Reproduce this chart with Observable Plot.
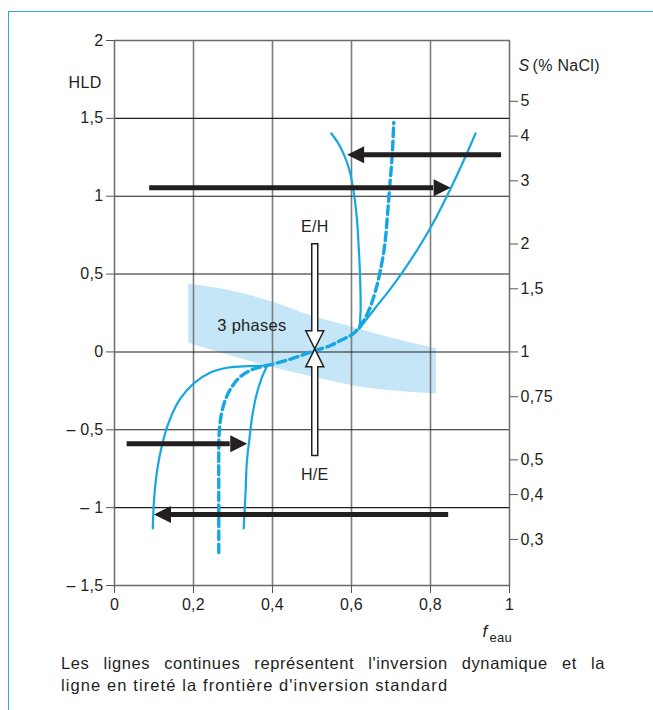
<!DOCTYPE html>
<html>
<head>
<meta charset="utf-8">
<script src="https://cdn.jsdelivr.net/npm/d3@7"></script>
<script src="https://cdn.jsdelivr.net/npm/@observablehq/plot@0.6"></script>
<style>
  body { margin: 0; background: #fff; font-family: "Liberation Sans", Arial, sans-serif; color: #231f20; }
  #wrap { position: relative; width: 653px; height: 710px; overflow: hidden; }
  #border { position: absolute; left: 8px; top: 11px; width: 720px; height: 760px;
            border-left: 1.6px solid #2eaae1; border-top: 1.6px solid #2eaae1; }
  #chart { position: absolute; left: 0; top: 0; }
  #chart svg { display: block; }
  #caption { position: absolute; left: 61px; top: 652px; width: 544px; font-size: 16.5px; line-height: 22px;
             letter-spacing: 1.1px; color: #231f20; }
  #caption .l1 { text-align: justify; text-align-last: justify; letter-spacing: 0.6px; }
</style>
</head>
<body>
<div id="wrap">
  <div id="border"></div>
  <div id="chart"></div>
  <div id="caption">
    <div class="l1">Les lignes continues représentent l'inversion dynamique et la</div>
    <div>ligne en tireté la frontière d'inversion standard</div>
  </div>
</div>
<script>
// ---------- data ----------
const hldTicks = [2, 1.5, 1, 0.5, 0, -0.5, -1, -1.5];
const hldLabels = ["2", "1,5", "1", "0,5", "0", "– 0,5", "– 1", "– 1,5"];
const fTicks = [0, 0.2, 0.4, 0.6, 0.8, 1];
const fLabels = ["0", "0,2", "0,4", "0,6", "0,8", "1"];
const sTicks = [5, 4, 3, 2, 1.5, 1, 0.75, 0.5, 0.4, 0.3];
const sLabels = ["5", "4", "3", "2", "1,5", "1", "0,75", "0,5", "0,4", "0,3"];

// dynamic inversion (solid) curves: [f_eau, HLD]
const dynUpperLeft = [[0.620, 0.150], [0.623, 0.266], [0.622, 0.459], [0.618, 0.683], [0.613, 0.876], [0.605, 1.036],
  [0.595, 1.165], [0.582, 1.261], [0.567, 1.338], [0.549, 1.403]];
const dynUpperRight = [[0.620, 0.150], [0.661, 0.285], [0.699, 0.407], [0.737, 0.542], [0.775, 0.690], [0.813, 0.857],
  [0.851, 1.049], [0.884, 1.229], [0.914, 1.403]];
const dynLowerLeft = [[0.387, -0.087], [0.339, -0.091], [0.289, -0.100], [0.243, -0.132], [0.203, -0.197], [0.167, -0.299],
  [0.139, -0.441], [0.120, -0.601], [0.108, -0.761], [0.100, -0.954], [0.097, -1.134]];
const dynLowerRight = [[0.387, -0.087], [0.372, -0.171], [0.359, -0.280], [0.349, -0.408], [0.342, -0.550], [0.335, -0.710],
  [0.332, -0.890], [0.327, -1.134]];
// standard inversion frontier (dashed)
const stdFrontier = [[0.264, -1.288], [0.264, -0.954], [0.264, -0.633], [0.265, -0.518], [0.270, -0.408], [0.280, -0.312],
  [0.296, -0.229], [0.319, -0.158], [0.349, -0.113], [0.387, -0.087], [0.446, -0.046], [0.504, 0.006], [0.547, 0.041],
  [0.572, 0.073], [0.605, 0.118], [0.628, 0.189], [0.646, 0.279], [0.661, 0.394], [0.673, 0.523], [0.684, 0.683],
  [0.691, 0.876], [0.697, 1.069], [0.703, 1.261], [0.707, 1.473]];

// three-phase band
const bandX = [0.188, 0.3, 0.4, 0.5, 0.6, 0.7, 0.815];
const bandTop = [0.437, 0.39, 0.32, 0.23, 0.16, 0.09, 0.02];
const bandBottom = [0.056, -0.03, -0.10, -0.16, -0.215, -0.25, -0.27];

// hysteresis arrows
const arrowY = [1.267, 1.054, -0.59, -1.044];
const arrowFrom = [0.98, 0.089, 0.032, 0.846];
const arrowTo = [0.589, 0.851, 0.336, 0.10];

// E/H – H/E double arrow
const switchX = 0.507, switchY = 0.02, switchTop = 0.695, switchBottom = -0.665;

// labels
const annotations = [
  {x: 0.348, y: 0.17, text: "3 phases", size: 16.5},
  {x: 0.507, y: 0.806, text: "E/H", size: 16},
  {x: 0.507, y: -0.79, text: "H/E", size: 16}
];

// ---------- layout ----------
const W = 653, H = 652, mL = 114, mR = 144, mT = 40, mB = 67;
const xDomain = [0, 1], yDomain = [-1.5, 2];
const pxX = (W - mL - mR) / (xDomain[1] - xDomain[0]);
const pxY = (H - mT - mB) / (yDomain[1] - yDomain[0]);
const BLUE = "#16a6e2", INK = "#231f20";

const HEAD_L = 17, HEAD_W = 8.5;
const headRight = {draw(c) { c.moveTo(0, 0); c.lineTo(-HEAD_L, -HEAD_W); c.lineTo(-HEAD_L, HEAD_W); c.closePath(); }};
const headLeft = {draw(c) { c.moveTo(0, 0); c.lineTo(HEAD_L, -HEAD_W); c.lineTo(HEAD_L, HEAD_W); c.closePath(); }};

const topPx = (switchTop - switchY) * pxY, botPx = (switchY - switchBottom) * pxY;
const bh = 3, hh = 9, hl = 18;
const doubleArrow = {draw(c) {
  c.moveTo(-bh, -topPx); c.lineTo(bh, -topPx); c.lineTo(bh, -hl); c.lineTo(hh, -hl); c.lineTo(0, 0);
  c.lineTo(-hh, -hl); c.lineTo(-bh, -hl); c.closePath();
  c.moveTo(-bh, botPx); c.lineTo(-bh, hl); c.lineTo(-hh, hl); c.lineTo(0, 0);
  c.lineTo(hh, hl); c.lineTo(bh, hl); c.lineTo(bh, botPx); c.closePath();
}};

const idx = arrowY.map((_, i) => i);
const dir = i => Math.sign(arrowTo[i] - arrowFrom[i]);
const sLabelOf = new Map(sTicks.map((s, i) => [Math.log(s), sLabels[i]]));

const solidStyle = {x: d => d[0], y: d => d[1], curve: "catmull-rom", stroke: BLUE, strokeWidth: 2.2};

const plot = Plot.plot({
  width: W, height: H,
  marginLeft: mL, marginRight: mR, marginTop: mT, marginBottom: mB,
  style: {fontFamily: "Liberation Sans, Arial, sans-serif", fontSize: "16px", color: INK, background: "transparent", letterSpacing: "0.3px"},
  x: {domain: xDomain, axis: null},
  y: {domain: yDomain, axis: null},
  marks: [
    Plot.areaY(bandX.map((_, i) => i), {x: i => bandX[i], y1: i => bandBottom[i], y2: i => bandTop[i], curve: "monotone-x", fill: "#c4e6f7"}),
    Plot.gridX({ticks: [0.2, 0.4, 0.6, 0.8], stroke: "#7d7d7d", strokeOpacity: 1, strokeWidth: 1.6}),
    Plot.gridY({ticks: [-1, -0.5, 0, 0.5, 1, 1.5], stroke: "#1e1e1e", strokeOpacity: 1, strokeWidth: 1.1}),
    Plot.frame({stroke: "#6a6a6a", strokeWidth: 1.5}),
    Plot.line(dynUpperLeft, solidStyle),
    Plot.line(dynUpperRight, solidStyle),
    Plot.line(dynLowerLeft, solidStyle),
    Plot.line(dynLowerRight, solidStyle),
    Plot.line(stdFrontier, {x: d => d[0], y: d => d[1], curve: "catmull-rom", stroke: BLUE, strokeWidth: 3.4, strokeDasharray: "8.5,4.5"}),
    Plot.ruleY(idx, {y: i => arrowY[i], x1: i => arrowFrom[i], x2: i => arrowTo[i] - dir(i) * HEAD_L / pxX, stroke: INK, strokeWidth: 5}),
    Plot.dot(idx.filter(i => dir(i) > 0), {x: i => arrowTo[i], y: i => arrowY[i], symbol: headRight, fill: INK, stroke: "none"}),
    Plot.dot(idx.filter(i => dir(i) < 0), {x: i => arrowTo[i], y: i => arrowY[i], symbol: headLeft, fill: INK, stroke: "none"}),
    Plot.dot([0], {x: () => switchX, y: () => switchY, symbol: doubleArrow, fill: "white", stroke: INK, strokeWidth: 1.5}),
    Plot.text(annotations, {x: "x", y: "y", text: "text", fontSize: "size", fill: INK}),
    Plot.axisY({anchor: "left", ticks: hldTicks, tickFormat: d => hldLabels[hldTicks.indexOf(d)], tickSize: 8, tickPadding: 3, label: null, fontSize: 16, stroke: "#555"}),
    Plot.axisY({anchor: "right", ticks: sTicks.map(Math.log), tickFormat: d => sLabelOf.get(d), tickSize: 8, tickPadding: 3, label: null, fontSize: 16, stroke: "#555"}),
    Plot.axisX({ticks: fTicks, tickFormat: d => fLabels[fTicks.indexOf(d)], tickSize: 8, tickPadding: 5, label: null, fontSize: 16, stroke: "#555"}),
    Plot.text(["HLD"], {frameAnchor: "top-left", dx: -13, dy: 36, textAnchor: "end", fontSize: 16, fill: INK}),
    Plot.text(["S"], {frameAnchor: "top-right", dx: 9, dy: 19, textAnchor: "start", fontSize: 16, fontStyle: "italic", fill: INK}),
    Plot.text(["(% NaCl)"], {frameAnchor: "top-right", dx: 23, dy: 19, textAnchor: "start", fontSize: 16, fill: INK}),
    Plot.text(["f"], {frameAnchor: "bottom-right", dx: -27, dy: 51, textAnchor: "start", fontSize: 17, fontStyle: "italic", fill: INK}),
    Plot.text(["eau"], {frameAnchor: "bottom-right", dx: -20, dy: 56, textAnchor: "start", fontSize: 13, fill: INK})
  ]
});
document.getElementById("chart").appendChild(plot);
</script>
</body>
</html>
